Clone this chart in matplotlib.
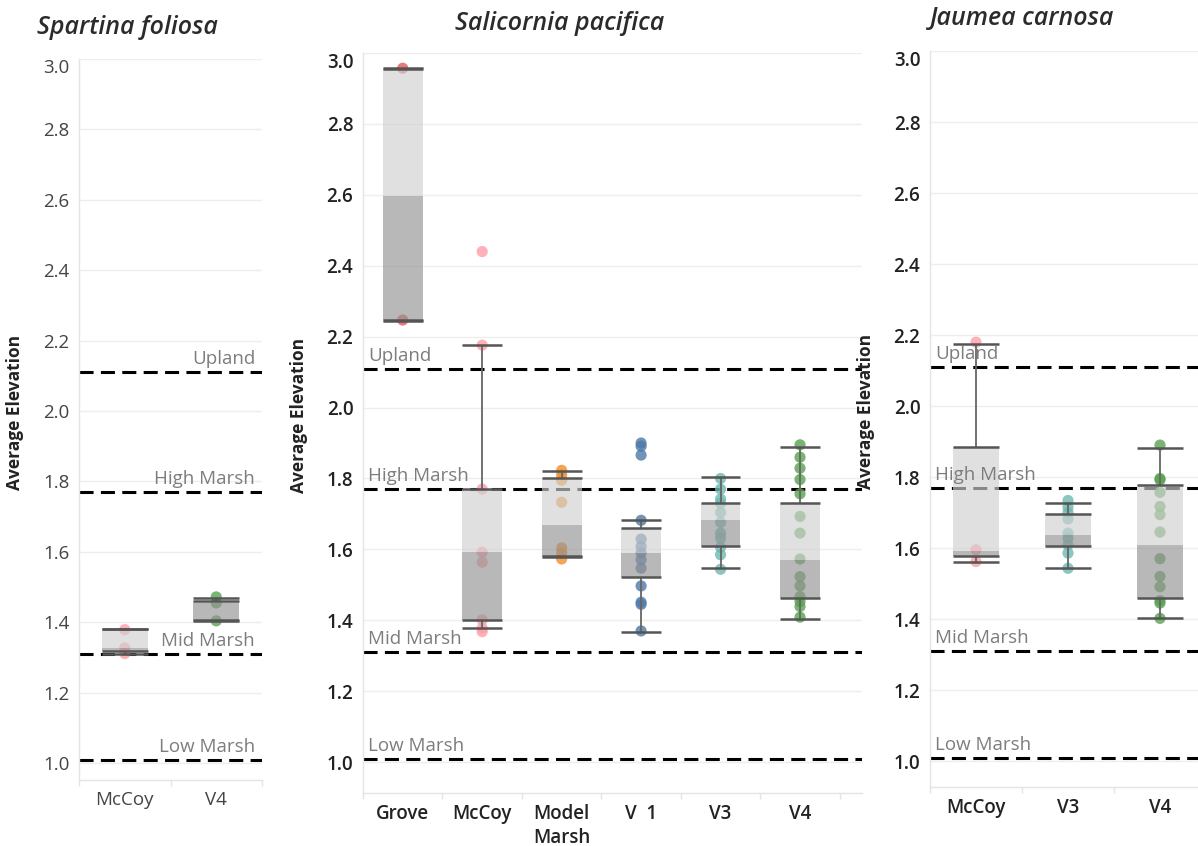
import numpy as np
import matplotlib
matplotlib.use("Agg")
import matplotlib.pyplot as plt

plt.rcParams['font.family'] = ['Open Sans', 'DejaVu Sans']

# reference elevations for marsh zones
zone_names = ['Upland', 'High Marsh', 'Mid Marsh', 'Low Marsh']
zone_levels = [2.11, 1.77, 1.31, 1.01]

site_colors = {'Grove': '#e15759', 'McCoy': '#ff9da7', 'Model\nMarsh': '#f28e2b',
               'V  1': '#4e79a7', 'V3': '#6fb8b1', 'V4': '#59a14f'}

# Spartina foliosa
sf_sites = ['McCoy', 'V4']
sf_points = [[1.379, 1.327, 1.311],
             [1.472, 1.455, 1.404]]
sf_lo = [1.311, 1.403]
sf_q1 = [1.318, 1.406]
sf_med = [1.326, 1.455]
sf_q3 = [1.380, 1.460]
sf_hi = [1.380, 1.470]

# Salicornia pacifica
sp_sites = ['Grove', 'McCoy', 'Model\nMarsh', 'V  1', 'V3', 'V4']
sp_points = [[2.957, 2.247],
             [2.44, 2.176, 1.770, 1.592, 1.564, 1.401, 1.378, 1.368],
             [1.823, 1.81, 1.795, 1.733, 1.604, 1.59, 1.573],
             [1.900, 1.891, 1.866, 1.682, 1.629, 1.608, 1.590, 1.571, 1.547, 1.497, 1.451, 1.445, 1.370],
             [1.80, 1.770, 1.742, 1.730, 1.704, 1.676, 1.646, 1.632, 1.606, 1.585, 1.544],
             [1.895, 1.860, 1.829, 1.797, 1.757, 1.693, 1.646, 1.573, 1.523, 1.497, 1.467, 1.453, 1.439, 1.409]]
sp_lo = [2.245, 1.378, 1.578, 1.368, 1.548, 1.403]
sp_q1 = [2.246, 1.401, 1.580, 1.523, 1.610, 1.463]
sp_med = [2.598, 1.592, 1.669, 1.591, 1.682, 1.569]
sp_q3 = [2.956, 1.770, 1.800, 1.659, 1.731, 1.731]
sp_hi = [2.957, 2.176, 1.820, 1.684, 1.803, 1.890]

# Jaumea carnosa
jc_sites = ['McCoy', 'V3', 'V4']
jc_points = [[2.18, 1.595, 1.562],
             [1.734, 1.715, 1.700, 1.682, 1.642, 1.628, 1.609, 1.586, 1.543],
             [1.890, 1.796, 1.792, 1.757, 1.717, 1.694, 1.645, 1.570, 1.520, 1.491, 1.452, 1.445, 1.402]]
jc_lo = [1.562, 1.545, 1.402]
jc_q1 = [1.577, 1.607, 1.460]
jc_med = [1.592, 1.636, 1.608]
jc_q3 = [1.884, 1.696, 1.779]
jc_hi = [2.175, 1.728, 1.883]

W, H = 1198, 846
fig = plt.figure(figsize=(W / 100, H / 100), dpi=100)


def make_axes(x0, x1, top, bottom):
    return fig.add_axes([x0 / W, 1 - bottom / H, (x1 - x0) / W, (bottom - top) / H])


def draw_panel(ax, sites, points, lo, q1, med, q3, hi, ymin, label_right, bold_ticks,
               width_px, extra=0.0):
    n = len(sites)
    xs = np.arange(n)
    bw = 0.5

    ax.set_xlim(-0.5, n - 0.5 + extra)
    ax.set_ylim(ymin, 3.0)
    ax.set_yticks(np.arange(1.0, 3.01, 0.2))
    ax.set_yticklabels(['%.1f' % t for t in np.arange(1.0, 3.01, 0.2)])
    ax.grid(axis='y', color='#eeeeee', lw=1, zorder=0)
    ax.set_axisbelow(True)
    for s in ['top', 'right']:
        ax.spines[s].set_visible(False)
    for s in ['left', 'bottom']:
        ax.spines[s].set_color('#e4e4e4')
        ax.spines[s].set_linewidth(1)

    weight = 'semibold' if bold_ticks else 'normal'
    tcolor = '#222222' if bold_ticks else '#444444'
    ax.tick_params(axis='y', length=0, pad=7, labelsize=13.5, labelcolor=tcolor)
    for lab in ax.get_yticklabels():
        lab.set_fontweight(weight)
    ax.get_yticklabels()[-1].set_va('top')

    ax.set_xticks(xs)
    ax.set_xticklabels(sites, fontsize=13.5, fontweight=weight, color=tcolor, linespacing=1.25)
    ax.set_xticks(np.arange(n + 1) - 0.5, minor=True)
    ax.tick_params(axis='x', which='major', length=0, pad=8)
    ax.tick_params(axis='x', which='minor', length=4.5, color='#e4e4e4', width=1)

    # zone lines
    for name, lev in zip(zone_names, zone_levels):
        ax.axhline(lev, color='black', lw=2.2, ls=(0, (4.6, 2.4)), zorder=1)
        if label_right:
            ax.annotate(name, xy=(1, lev), xycoords=('axes fraction', 'data'),
                        xytext=(-7, 4), textcoords='offset pixels', ha='right', va='bottom',
                        fontsize=13.5, color='#7d7d7d', zorder=6)
        else:
            ax.annotate(name, xy=(0, lev), xycoords=('axes fraction', 'data'),
                        xytext=(5, 4), textcoords='offset pixels', ha='left', va='bottom',
                        fontsize=13.5, color='#7d7d7d', zorder=6)

    for i, site in enumerate(sites):
        c = site_colors[site]
        ax.scatter([i] * len(points[i]), points[i], s=65, color=c, alpha=0.8,
                   edgecolors='none', zorder=2)
        # box: lower half darker, upper half lighter
        ax.bar(i, med[i] - q1[i], bottom=q1[i], width=bw, color='#939393', alpha=0.65,
               lw=0, zorder=3)
        ax.bar(i, q3[i] - med[i], bottom=med[i], width=bw, color='#d0d0d0', alpha=0.65,
               lw=0, zorder=3)
        ax.vlines(i, q3[i], hi[i], color='#666666', lw=1.3, zorder=4)
        ax.vlines(i, lo[i], q1[i], color='#666666', lw=1.3, zorder=4)
        ax.hlines([lo[i], q1[i], q3[i], hi[i]], i - bw / 2, i + bw / 2,
                  color='#555555', lw=1.8, zorder=4)

    ax.set_ylabel('Average Elevation', fontsize=12.5, fontweight='bold', color='#222222')
    ax.yaxis.set_label_coords(-55 / width_px, 0.51)


ax1 = make_axes(79, 262, 59, 780)
draw_panel(ax1, sf_sites, sf_points, sf_lo, sf_q1, sf_med, sf_q3, sf_hi, 0.952, True, False, 183)

ax2 = make_axes(363, 862, 53, 793)
draw_panel(ax2, sp_sites, sp_points, sp_lo, sp_q1, sp_med, sp_q3, sp_hi, 0.913, False, True,
           499, extra=0.28)

ax3 = make_axes(930, 1206, 51, 787)
draw_panel(ax3, jc_sites, jc_points, jc_lo, jc_q1, jc_med, jc_q3, jc_hi, 0.927, False, True, 276)

titles = ['Spartina foliosa', 'Salicornia pacifica', 'Jaumea carnosa']
title_pos = [(127, 28), (560, 23), (1022, 18)]
for t, (x, y) in zip(titles, title_pos):
    fig.text(x / W, 1 - y / H, t, ha='center', va='center', fontsize=18, style='italic',
             fontweight='semibold', color='#2b2b2b')

fig.savefig('out.png', dpi=100)
